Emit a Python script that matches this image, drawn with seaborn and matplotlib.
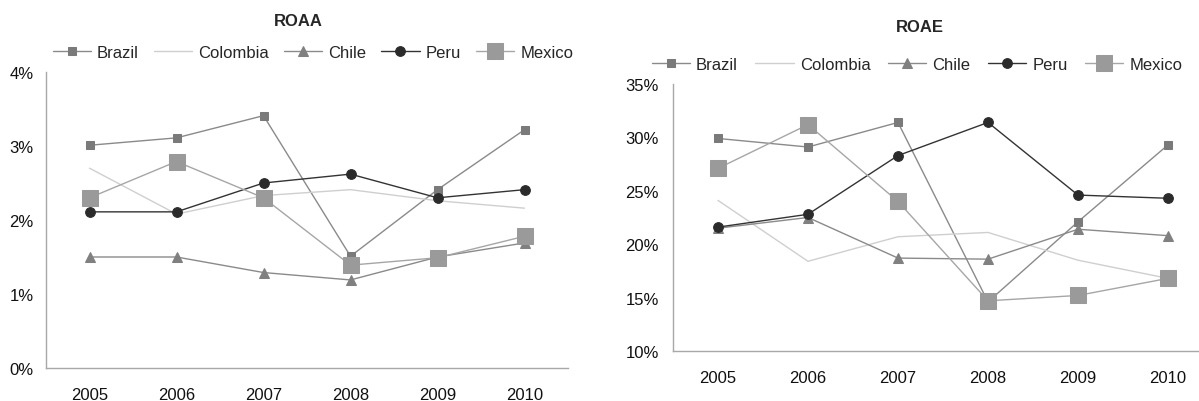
import pandas as pd
import matplotlib
matplotlib.use('Agg')
import matplotlib.pyplot as plt
import seaborn as sns
from matplotlib.ticker import PercentFormatter

sns.set_style('white')
plt.rcParams['font.family'] = ['Liberation Sans', 'DejaVu Sans']

# Data
years = ['2005', '2006', '2007', '2008', '2009', '2010']
countries = ['Brazil', 'Colombia', 'Chile', 'Peru', 'Mexico']

roaa_brazil = [3.01, 3.11, 3.41, 1.51, 2.41, 3.22]
roaa_colombia = [2.70, 2.08, 2.33, 2.41, 2.26, 2.16]
roaa_chile = [1.50, 1.50, 1.29, 1.19, 1.50, 1.69]
roaa_peru = [2.11, 2.11, 2.50, 2.62, 2.30, 2.41]
roaa_mexico = [2.30, 2.79, 2.30, 1.39, 1.49, 1.78]

roae_brazil = [29.9, 29.1, 31.4, 14.6, 22.1, 29.3]
roae_colombia = [24.1, 18.4, 20.7, 21.1, 18.5, 16.8]
roae_chile = [21.5, 22.5, 18.7, 18.6, 21.4, 20.8]
roae_peru = [21.6, 22.8, 28.3, 31.4, 24.6, 24.3]
roae_mexico = [27.1, 31.2, 24.0, 14.7, 15.2, 16.8]

# line colour, marker colour, marker and size per country
styles = {
    'Brazil':   dict(color='#8a8a8a', mfc='#7a7a7a', marker='s', ms=6),
    'Colombia': dict(color='#cfcfcf', mfc='#cfcfcf', marker=None, ms=0),
    'Chile':    dict(color='#8a8a8a', mfc='#808080', marker='^', ms=7),
    'Peru':     dict(color='#333333', mfc='#2b2b2b', marker='o', ms=7),
    'Mexico':   dict(color='#a6a6a6', mfc='#9a9a9a', marker='s', ms=11),
}


def make_df(values):
    rows = []
    for c, vals in zip(countries, values):
        for i, v in enumerate(vals):
            rows.append({'Country': c, 'x': i, 'Value': v})
    return pd.DataFrame(rows)


roaa_df = make_df([roaa_brazil, roaa_colombia, roaa_chile, roaa_peru, roaa_mexico])
roae_df = make_df([roae_brazil, roae_colombia, roae_chile, roae_peru, roae_mexico])

W, H = 1199, 402
fig = plt.figure(figsize=(W / 100, H / 100), dpi=100)
ax1 = fig.add_axes([46 / W, 1 - 369 / H, 522 / W, (369 - 73) / H])
ax2 = fig.add_axes([673 / W, 1 - 352 / H, 540 / W, (352 - 85) / H])


def draw(ax, df, title, ylim, yticks, title_xy, legend_xy, colsp, ypad):
    for c in countries:
        s = styles[c]
        sub = df[df['Country'] == c]
        sns.lineplot(data=sub, x='x', y='Value', ax=ax, color=s['color'],
                     linewidth=1.0, marker=s['marker'], markersize=s['ms'],
                     markerfacecolor=s['mfc'], markeredgecolor=s['mfc'],
                     label=c, clip_on=False, legend=True)
    ax.set_xlim(-0.5, 5.5)
    ax.set_ylim(*ylim)
    ax.set_yticks(yticks)
    ax.yaxis.set_major_formatter(PercentFormatter(decimals=0))
    ax.set_xticks(range(len(years)))
    ax.set_xticklabels(years)
    ax.set_xlabel('')
    ax.set_ylabel('')
    ax.tick_params(axis='both', length=0, labelsize=12, colors='#111111')
    ax.tick_params(axis='x', pad=14)
    ax.tick_params(axis='y', pad=ypad)
    for sp in ['top', 'right']:
        ax.spines[sp].set_visible(False)
    for sp in ['left', 'bottom']:
        ax.spines[sp].set_color('#a8a8a8')
        ax.spines[sp].set_linewidth(1.0)
    ax.grid(False)
    handles, labels = ax.get_legend_handles_labels()
    ax.get_legend().remove()
    fig.text(title_xy[0] / W, 1 - title_xy[1] / H, title, fontsize=12,
             fontweight='bold', ha='center', va='center')
    fig.legend(handles, labels, loc='center',
               bbox_to_anchor=(legend_xy[0] / W, 1 - legend_xy[1] / H),
               ncol=5, frameon=False, fontsize=12, handlelength=2.3,
               columnspacing=colsp, handletextpad=0.36, borderpad=0,
               borderaxespad=0)


draw(ax1, roaa_df, 'ROAA', (0, 4), [0, 1, 2, 3, 4], (298, 22), (313, 53), 0.9, 9)
draw(ax2, roae_df, 'ROAE', (10, 35), [10, 15, 20, 25, 30, 35], (920, 28), (917, 65), 1.05, 10)

fig.savefig('out.png', dpi=100)
